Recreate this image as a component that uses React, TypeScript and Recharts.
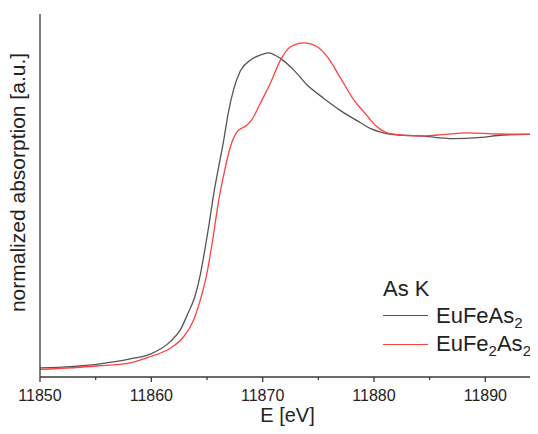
import { LineChart, Line, XAxis, YAxis, Legend } from "recharts";

// energy grid [eV] and normalized absorption
const euFeAsEnergy = [
  11850, 11855.1, 11858.1, 11859.9, 11861.7, 11862.6, 11863.3, 11863.9, 11864.4,
  11864.8, 11865.2, 11865.6, 11866.0, 11866.5, 11866.9, 11867.4, 11868.0, 11868.9,
  11869.8, 11870.5, 11871.6, 11872.8, 11874.0, 11875.5, 11877.0, 11878.8, 11879.7,
  11880.6, 11881.5, 11884.2, 11887.1, 11889.6, 11891.6, 11895,
];
const euFeAsAbs = [
  0.037, 0.052, 0.074, 0.094, 0.145, 0.193, 0.262, 0.328, 0.42, 0.52, 0.63, 0.75,
  0.85, 0.97, 1.08, 1.18, 1.255, 1.299, 1.32, 1.329, 1.306, 1.258, 1.197, 1.142,
  1.092, 1.042, 1.018, 1.004, 0.995, 0.988, 0.977, 0.982, 0.992, 0.995,
];

const euFe2As2Energy = [
  11850, 11855.1, 11858.1, 11859.9, 11861.7, 11862.9, 11863.8, 11864.4, 11865.0,
  11865.6, 11866.0, 11866.6, 11867.1, 11867.7, 11868.6, 11869.0, 11869.8, 11870.7,
  11871.6, 11872.5, 11873.7, 11874.9, 11875.8, 11877.0, 11878.2, 11879.4, 11879.7,
  11880.6, 11881.5, 11884.2, 11885.7, 11888.4, 11891.1, 11895,
];
const euFe2As2Abs = [
  0.031, 0.045, 0.058, 0.084, 0.118, 0.165, 0.234, 0.316, 0.426, 0.59, 0.71, 0.85,
  0.944, 1.005, 1.033, 1.053, 1.123, 1.205, 1.299, 1.354, 1.37, 1.354, 1.313, 1.225,
  1.135, 1.07, 1.052, 1.014, 0.997, 0.988, 0.992, 1.001, 0.996, 0.995,
];

const xTicks = [11850, 11855, 11860, 11865, 11870, 11875, 11880, 11885, 11890, 11895];
const majorTicks = [11850, 11860, 11870, 11880, 11890];

const FONT = "'Liberation Sans', Arial, sans-serif";
const AXIS = "#3a3a3a";

const euFeAs = euFeAsEnergy.map((e, i) => ({ e, v: euFeAsAbs[i] }));
const euFe2As2 = euFe2As2Energy.map((e, i) => ({ e, v: euFe2As2Abs[i] }));

function BottomTick({ x, y, payload }: any) {
  const major = majorTicks.includes(payload.value);
  return (
    <g>
      <line x1={x} x2={x} y1={y} y2={y + (major ? 5 : 3)} stroke={AXIS} strokeWidth={1.3} />
      {major && (
        <text x={x} y={y + 24} textAnchor="middle" fontSize={16} fill="#222" fontFamily={FONT}>
          {payload.value}
        </text>
      )}
    </g>
  );
}

function TopTick({ x, y, payload }: any) {
  const major = majorTicks.includes(payload.value);
  return <line x1={x} x2={x} y1={y} y2={y + (major ? 6 : 3.5)} stroke={AXIS} strokeWidth={1.3} />;
}

function Formula({ parts }: { parts: [string, string?][] }) {
  return (
    <span>
      {parts.map(([t, s], i) => (
        <span key={i}>
          {t}
          {s && <sub style={{ fontSize: 15, verticalAlign: -5, lineHeight: 0 }}>{s}</sub>}
        </span>
      ))}
    </span>
  );
}

function LegendBox() {
  const row = { display: "flex", alignItems: "center" } as const;
  const sample = (c: string) => (
    <span style={{ display: "inline-block", width: 45, height: 0, borderTop: `1.3px solid ${c}`, marginRight: 8 }} />
  );
  return (
    <div style={{ fontFamily: FONT, fontSize: 22, color: "#222", lineHeight: "26px" }}>
      <div style={{ ...row, height: 26 }}>As K</div>
      <div style={{ ...row, height: 27 }}>
        {sample("#555")}
        <Formula parts={[["EuFeAs", "2"]]} />
      </div>
      <div style={{ ...row, height: 30 }}>
        {sample("#ff4040")}
        <Formula parts={[["EuFe", "2"], ["As", "2"]]} />
      </div>
    </div>
  );
}

export default function App() {
  return (
    <div style={{ margin: -8, width: 538, height: 434, overflow: "hidden", background: "#fff" }}>
      <LineChart width={541} height={434} margin={{ top: 14, right: 0, bottom: 0, left: 0 }}>
        <XAxis
          dataKey="e"
          type="number"
          domain={[11850, 11895]}
          ticks={xTicks}
          interval={0}
          allowDataOverflow
          height={57}
          tickSize={0}
          tickMargin={0}
          tickLine={false}
          tick={<BottomTick />}
          axisLine={{ stroke: AXIS, strokeWidth: 1.3 }}
          label={{
            value: "E [eV]",
            position: "insideBottom",
            offset: 12,
            dx: -3,
            fontSize: 20,
            fill: "#222",
            fontFamily: FONT,
          }}
        />
        <XAxis
          xAxisId="top"
          orientation="top"
          dataKey="e"
          type="number"
          domain={[11850, 11895]}
          ticks={xTicks}
          interval={0}
          height={0}
          tickSize={0}
          tickMargin={0}
          tickLine={false}
          tick={<TopTick />}
          axisLine={{ stroke: AXIS, strokeWidth: 1.3 }}
        />
        <YAxis
          type="number"
          domain={[0, 1.488]}
          allowDataOverflow
          width={40}
          tick={false}
          tickLine={false}
          axisLine={{ stroke: AXIS, strokeWidth: 1.3 }}
          label={{
            value: "normalized absorption [a.u.]",
            angle: -90,
            position: "center",
            dx: -2,
            dy: -13,
            fontSize: 21,
            fill: "#222",
            fontFamily: FONT,
          }}
        />
        <Legend
          layout="horizontal"
          verticalAlign="middle"
          align="center"
          content={<LegendBox />}
          wrapperStyle={{ position: "absolute", left: 383, top: 276, width: 150, bottom: "auto", right: "auto" }}
        />
        <Line
          data={euFeAs}
          dataKey="v"
          type="monotone"
          stroke="#555"
          strokeWidth={1.3}
          dot={false}
          isAnimationActive={false}
        />
        <Line
          data={euFe2As2}
          dataKey="v"
          type="monotone"
          stroke="#ff4040"
          strokeWidth={1.3}
          dot={false}
          isAnimationActive={false}
        />
      </LineChart>
    </div>
  );
}
